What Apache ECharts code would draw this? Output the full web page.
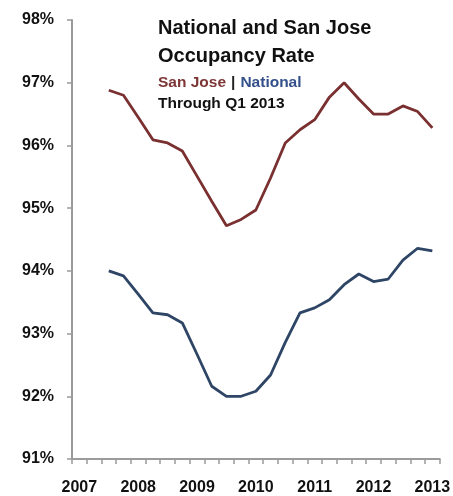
<!DOCTYPE html>
<html>
<head>
<meta charset="utf-8">
<script src="https://cdn.jsdelivr.net/npm/echarts@6/dist/echarts.min.js"></script>
<style>
  html, body { margin: 0; padding: 0; background: #fff; }
  #occupancy_chart { width: 453px; height: 496px; }
</style>
</head>
<body>
<div id="occupancy_chart"></div>
<script>
// quarters Q1 2007 .. Q1 2013
var quarters = [
  '2007 Q1', '2007 Q2', '2007 Q3', '2007 Q4',
  '2008 Q1', '2008 Q2', '2008 Q3', '2008 Q4',
  '2009 Q1', '2009 Q2', '2009 Q3', '2009 Q4',
  '2010 Q1', '2010 Q2', '2010 Q3', '2010 Q4',
  '2011 Q1', '2011 Q2', '2011 Q3', '2011 Q4',
  '2012 Q1', '2012 Q2', '2012 Q3', '2012 Q4',
  '2013 Q1'
];

// occupancy rate, %
var sanJose = [
  null, null, 96.88, 96.80,
  96.45, 96.09, 96.04, 95.91,
  95.51, 95.11, 94.72, 94.82,
  94.97, 95.48, 96.04, 96.25,
  96.41, 96.77, 97.00, 96.74,
  96.50, 96.50, 96.63, 96.54,
  96.28
];

var national = [
  null, null, 94.00, 93.92,
  93.63, 93.33, 93.30, 93.17,
  92.67, 92.16, 92.00, 92.00,
  92.08, 92.34, 92.86, 93.33,
  93.41, 93.54, 93.78, 93.95,
  93.83, 93.87, 94.17, 94.36,
  94.32
];

var yTicks = [91, 98, 1]; // min, max, step

var fontName = '"Liberation Sans", Arial, sans-serif';
var axisGrey = '#9b9b9b';

function getChartOption() {
  var option = {
    animation: false,
    backgroundColor: '#fff',
    color: ['#7a3030', '#2e4566'],
    title: [{
      text: 'National and San Jose\nOccupancy Rate',
      left: 153,
      top: 9,
      textStyle: {
        color: '#111',
        fontFamily: fontName,
        fontWeight: 'bold',
        fontSize: 20,
        lineHeight: 28
      }
    }, {
      text: '{sj|San Jose} {sep||} {na|National}',
      left: 153,
      top: 69,
      textStyle: {
        rich: {
          sj: { color: '#7d3535', fontFamily: fontName, fontWeight: 'bold', fontSize: 15.5 },
          sep: { color: '#222', fontFamily: fontName, fontWeight: 'bold', fontSize: 15.5 },
          na: { color: '#34508a', fontFamily: fontName, fontWeight: 'bold', fontSize: 15.5 }
        }
      }
    }, {
      text: 'Through Q1 2013',
      left: 153,
      top: 91,
      textStyle: {
        color: '#111',
        fontFamily: fontName,
        fontWeight: 'bold',
        fontSize: 15.5
      }
    }],
    grid: {
      left: 72,
      right: 6,
      top: 20,
      bottom: 30,
      containLabel: false
    },
    xAxis: {
      type: 'category',
      boundaryGap: true,
      data: quarters,
      axisLine: {
        lineStyle: { color: axisGrey, width: 2 }
      },
      axisTick: {
        show: true,
        interval: 0,
        length: 5,
        lineStyle: { color: axisGrey, width: 1.5 }
      },
      axisLabel: {
        interval: 3,
        margin: 21,
        color: '#111',
        fontFamily: fontName,
        fontWeight: 'bold',
        fontSize: 16,
        formatter: function (val) {
          return val.split(' ')[0];
        }
      },
      splitLine: { show: false }
    },
    yAxis: {
      type: 'value',
      min: yTicks[0],
      max: yTicks[1],
      interval: yTicks[2],
      axisLine: {
        show: true,
        lineStyle: { color: axisGrey, width: 2 }
      },
      axisTick: {
        show: true,
        length: 5,
        lineStyle: { color: axisGrey, width: 1.5 }
      },
      axisLabel: {
        margin: 18,
        color: '#111',
        fontFamily: fontName,
        fontWeight: 'bold',
        fontSize: 16,
        formatter: '{value}%'
      },
      splitLine: { show: false }
    },
    series: [{
      name: 'San Jose',
      type: 'line',
      showSymbol: false,
      connectNulls: false,
      lineStyle: { width: 2.8, color: '#7a3030' },
      data: sanJose
    }, {
      name: 'National',
      type: 'line',
      showSymbol: false,
      connectNulls: false,
      lineStyle: { width: 2.8, color: '#2e4566' },
      data: national
    }]
  };
  return option;
}

var myChart = echarts.init(document.getElementById('occupancy_chart'));
myChart.setOption(getChartOption());
</script>
</body>
</html>
